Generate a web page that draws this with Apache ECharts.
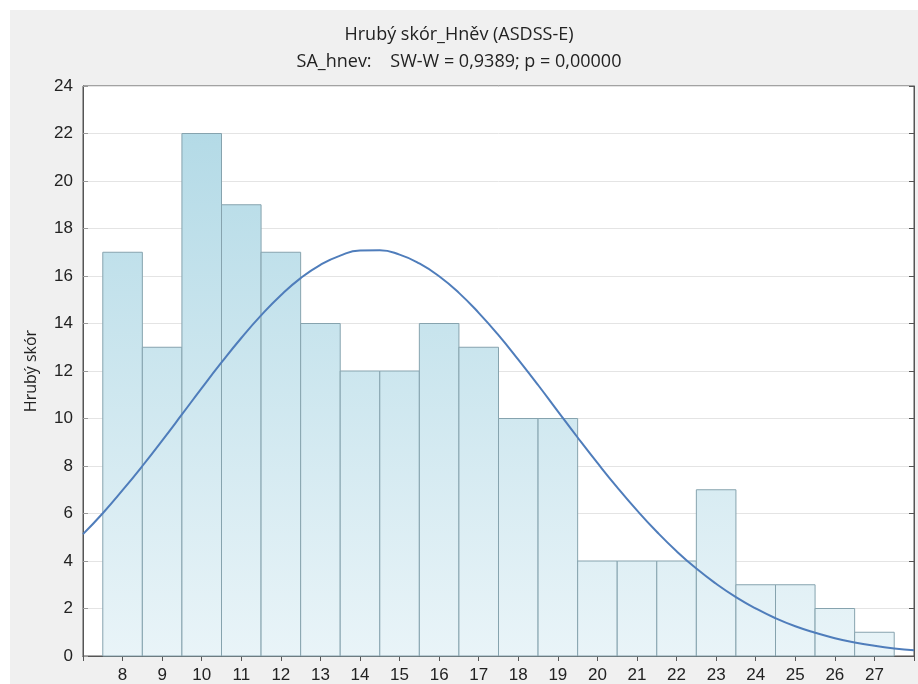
<!DOCTYPE html>
<html>
<head>
<meta charset="utf-8">
<script src="https://cdn.jsdelivr.net/npm/echarts@6/dist/echarts.min.js"></script>
<style>
html,body{margin:0;padding:0;background:#ffffff;}
#chart{width:918px;height:684px;}
</style>
</head>
<body>
<div id="chart"></div>
<script>
// Histogram categories (bin centers) and counts
const categories = [8,9,10,11,12,13,14,15,16,17,18,19,20,21,22,23,24,25,26,27];
const counts = [17,13,22,19,17,14,12,12,14,13,10,10,4,4,4,7,3,3,2,1];
// Fitted normal curve
const curveX = [7,7.5,8,8.5,9,9.5,10,10.5,11,11.5,12,12.5,13,13.5,14,14.5,15,15.5,16,16.5,17,17.5,18,18.5,19,19.5,20,20.5,21,21.5,22,22.5,23,23.5,24,24.5,25,25.5,26,26.5,27,27.5,28];
const curveY = [5.13,6.01,6.98,8.00,9.07,10.17,11.28,12.36,13.39,14.34,15.19,15.91,16.47,16.86,17.07,17.08,16.90,16.53,15.99,15.29,14.45,13.51,12.48,11.41,10.30,9.20,8.13,7.10,6.13,5.23,4.41,3.68,3.04,2.48,2.00,1.59,1.25,0.98,0.75,0.57,0.43,0.32,0.24];
const yTicks = [0,2,4,6,8,10,12,14,16,18,20,22,24];
const titleText = 'Hrubý skór_Hněv (ASDSS-E)';
const subtitleText = 'SA_hnev:    SW-W = 0,9389; p = 0,00000';
const yName = 'Hrubý skór';

const chart = echarts.init(document.getElementById('chart'), null, {renderer:'canvas'});
const barData = categories.map((c,i)=>[c, counts[i]]);
const lineData = curveX.map((x,i)=>[x, curveY[i]]);
const font = 'Liberation Sans, Arial, sans-serif';
const titleFont = '"Open Sans", "Noto Sans", sans-serif';

const option = {
  animation:false,
  backgroundColor:'transparent',
  graphic:[{type:'rect', z:-10, shape:{x:10,y:10,width:908,height:674}, style:{fill:'#f0f0f0'}, silent:true}],
  title:[
    {text:titleText, left:'center', top:21, textStyle:{fontFamily:titleFont, fontSize:18, fontWeight:'normal', color:'#222'}},
    {text:subtitleText, left:'center', top:48, textStyle:{fontFamily:titleFont, fontSize:18, fontWeight:'normal', color:'#222'}}
  ],
  grid:{left:83, top:86, right:4, bottom:27, show:true, backgroundColor:'#ffffff', borderColor:'#555', borderWidth:1, containLabel:false},
  xAxis:[
    {type:'value', min:7, max:28, interval:1, position:'bottom',
     axisLine:{show:true, lineStyle:{color:'#555'}},
     axisTick:{show:true, inside:true, length:5, lineStyle:{color:'#555'}},
     splitLine:{show:false},
     axisLabel:{margin:11, fontFamily:font, fontSize:17, color:'#222',
       formatter:function(v){ return categories.indexOf(v) >= 0 ? String(v) : ''; }}},
    {type:'value', min:7, max:28, interval:1, position:'top',
     axisLine:{show:true, lineStyle:{color:'#555'}},
     axisTick:{show:true, inside:true, length:5, lineStyle:{color:'#555'}},
     splitLine:{show:false}, axisLabel:{show:false}}
  ],
  yAxis:[
    {type:'value', min:0, max:24, interval:2, position:'left',
     name:yName, nameLocation:'middle', nameGap:44, nameRotate:90,
     nameTextStyle:{fontFamily:titleFont, fontSize:16, color:'#222'},
     axisLine:{show:true, lineStyle:{color:'#555'}},
     axisTick:{show:true, inside:true, length:5, lineStyle:{color:'#999'}},
     splitLine:{show:true, lineStyle:{color:'#e4e4e4'}},
     axisLabel:{margin:10, fontFamily:font, fontSize:17, color:'#222',
       formatter:function(v){ return yTicks.indexOf(v) >= 0 ? String(v) : ''; }}},
    {type:'value', min:0, max:24, interval:2, position:'right',
     axisLine:{show:true, lineStyle:{color:'#555'}},
     axisTick:{show:true, inside:true, length:5, lineStyle:{color:'#555'}},
     splitLine:{show:false}, axisLabel:{show:false}}
  ],
  series:[
    {type:'custom', xAxisIndex:0, yAxisIndex:0, data:barData, z:2,
     renderItem:function(params, api){
       const x = api.value(0), v = api.value(1);
       const p0 = api.coord([x-0.5, v]);
       const p1 = api.coord([x+0.5, 0]);
       const top = api.coord([7,24])[1], bot = api.coord([7,0])[1];
       return {type:'rect',
         shape:{x:p0[0], y:p0[1], width:p1[0]-p0[0], height:p1[1]-p0[1]},
         style:{fill:new echarts.graphic.LinearGradient(0, top, 0, bot, [
             {offset:0, color:'#afd8e5'},{offset:1, color:'#e9f4f8'}], true),
           stroke:'#86a3ae', lineWidth:1}};
     }},
    {type:'line', xAxisIndex:0, yAxisIndex:0, data:lineData, smooth:true, showSymbol:false, z:3,
     lineStyle:{color:'#4f7dbb', width:2}, clip:true}
  ]
};
chart.setOption(option);
</script>
</body>
</html>
